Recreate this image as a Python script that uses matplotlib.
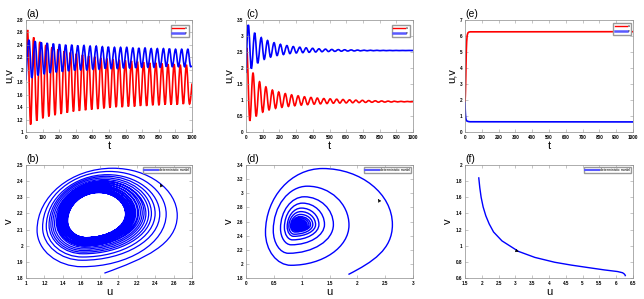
import numpy as np
import matplotlib
matplotlib.use("Agg")
import matplotlib.pyplot as plt
from matplotlib.path import Path
from matplotlib.patches import PathPatch
from matplotlib.lines import Line2D

plt.rcParams['font.family'] = ['Liberation Sans', 'DejaVu Sans']

# ---------------- data: panel (a)/(b) (sustained oscillation) ----------------
a_u0, a_v0, a_uend, a_vend = 1.85, 1.83, 1.78, 2.06
a_t_umax = [9, 46, 83, 119, 156, 193, 230, 267, 303, 340, 377, 414, 451, 487, 524,
            561, 598, 635, 671, 708, 745, 782, 819, 855, 892, 929, 966]
a_t_vmax = [18, 55, 92, 128, 165, 202, 239, 276, 312, 349, 386, 423, 460, 496, 533,
            570, 607, 644, 680, 717, 754, 791, 828, 864, 901, 938, 975]
a_t_umin = [28, 65, 102, 138, 175, 212, 249, 286, 322, 359, 396, 433, 470, 506, 543,
            580, 617, 654, 690, 727, 764, 801, 838, 874, 911, 948, 985]
a_t_vmin = [35, 72, 109, 145, 182, 219, 256, 293, 329, 366, 403, 440, 477, 513, 550,
            587, 624, 661, 697, 734, 771, 808, 845, 881, 918, 955, 992]
a_umax = [2.64, 2.52, 2.45, 2.40, 2.36, 2.33, 2.30, 2.28, 2.26, 2.24, 2.22, 2.21, 2.19, 2.18,
          2.17, 2.16, 2.15, 2.14, 2.13, 2.12, 2.11, 2.11, 2.10, 2.09, 2.09, 2.08, 2.08]
a_umin = [1.12, 1.18, 1.22, 1.25, 1.27, 1.29, 1.31, 1.33, 1.34, 1.35, 1.36, 1.37, 1.38, 1.39,
          1.40, 1.40, 1.41, 1.41, 1.42, 1.42, 1.43, 1.43, 1.44, 1.44, 1.44, 1.45, 1.45]
a_vmax = [2.48, 2.46, 2.44, 2.43, 2.42, 2.41, 2.40, 2.40, 2.39, 2.39, 2.38, 2.38, 2.37, 2.37,
          2.36, 2.36, 2.36, 2.35, 2.35, 2.35, 2.34, 2.34, 2.34, 2.34, 2.33, 2.33, 2.33]
a_vmin = [1.87, 1.91, 1.93, 1.95, 1.96, 1.97, 1.98, 1.99, 2.00, 2.00, 2.01, 2.01, 2.02, 2.02,
          2.02, 2.03, 2.03, 2.03, 2.04, 2.04, 2.04, 2.04, 2.05, 2.05, 2.05, 2.05, 2.05]

# ---------------- data: panel (c)/(d) (damped oscillation) ----------------
c_u0, c_v0, c_uend, c_vend = 1.84, 1.85, 0.95, 2.55
c_t_umax = [4, 42, 81, 119, 158, 196, 235, 273, 312, 350, 389, 427, 466, 504, 543, 581,
            620, 658, 697, 735, 774, 812, 851, 889, 928, 966]
c_t_vmax = [14, 52, 91, 129, 168, 206, 245, 283, 322, 360, 399, 437, 476, 514, 553, 591,
            630, 668, 707, 745, 784, 822, 861, 899, 938, 976]
c_t_umin = [23, 61, 100, 138, 177, 215, 254, 292, 331, 369, 408, 446, 485, 523, 562, 600,
            639, 677, 716, 754, 793, 831, 870, 908, 947, 985]
c_t_vmin = [32, 70, 109, 147, 186, 224, 263, 301, 340, 378, 417, 455, 494, 532, 571, 609,
            648, 686, 725, 763, 802, 840, 879, 917, 956, 994]
c_umax = [2.63, 1.85, 1.57, 1.41, 1.31, 1.25, 1.20, 1.16, 1.13, 1.10, 1.08, 1.06, 1.045,
          1.035, 1.025, 1.015, 1.005, 0.995, 0.99, 0.982, 0.975, 0.97, 0.965, 0.962, 0.958, 0.955]
c_umin = [0.35, 0.49, 0.62, 0.69, 0.74, 0.77, 0.80, 0.82, 0.84, 0.855, 0.87, 0.88, 0.89,
          0.90, 0.905, 0.91, 0.915, 0.92, 0.925, 0.93, 0.932, 0.935, 0.937, 0.94, 0.942, 0.944]
c_vmax = [3.35, 3.10, 2.95, 2.86, 2.79, 2.74, 2.70, 2.67, 2.65, 2.63, 2.615, 2.60, 2.59,
          2.58, 2.575, 2.57, 2.565, 2.56, 2.557, 2.555, 2.553, 2.551, 2.55, 2.549, 2.548, 2.548]
c_vmin = [1.98, 2.15, 2.27, 2.34, 2.39, 2.42, 2.45, 2.47, 2.48, 2.49, 2.50, 2.51, 2.515,
          2.52, 2.525, 2.53, 2.533, 2.536, 2.538, 2.54, 2.541, 2.542, 2.543, 2.544, 2.545, 2.546]

# ---------------- data: panel (e)/(f) (convergence to boundary state) ----------------
e_t = [0, 0.3, 0.6, 1.0, 1.4, 1.8, 2.3, 3.0, 4.0, 5.0, 6.0, 7.0, 8.0, 10, 13, 17, 22, 30, 1000]
e_u = [1.91, 1.94, 1.98, 2.04, 2.12, 2.22, 2.35, 2.60, 3.09, 3.58, 4.17, 4.66, 5.15, 5.65,
       6.04, 6.19, 6.24, 6.26, 6.27]
e_v = [1.84, 1.72, 1.60, 1.48, 1.37, 1.27, 1.17, 1.06, 0.93, 0.855, 0.795, 0.76, 0.73, 0.70,
       0.68, 0.665, 0.65, 0.64, 0.63]

# arrow positions on phase portraits (tail, head)
b_arrow = [(2.475, 2.36), (2.455, 2.385)]
d_arrow = [(2.41, 2.87), (2.37, 2.92)]
f_arrow = [(2.95, 0.95), (3.1, 0.925)]

RED = (1, 0, 0)
BLUE = (0, 0, 1)
LW = 1.2


def ts_path(t0, y0, tmax, ymax, tmin, ymin, tend, yend):
    pts = sorted([(t, y) for t, y in zip(tmax, ymax)] + [(t, y) for t, y in zip(tmin, ymin)])
    verts = [(t0, y0)]
    codes = [Path.MOVETO]
    prev = (t0, y0)
    first = True
    for p in pts + [(tend, yend)]:
        dt = p[0] - prev[0]
        if first:
            c1 = (prev[0] + 0.3 * dt, prev[1] + 0.5 * (p[1] - prev[1]))
        else:
            c1 = (prev[0] + 0.36 * dt, prev[1])
        if p == (tend, yend):
            c2 = (p[0] - 0.3 * dt, p[1] - 0.4 * (p[1] - prev[1]))
        else:
            c2 = (p[0] - 0.36 * dt, p[1])
        verts += [c1, c2, p]
        codes += [Path.CURVE4] * 3
        prev = p
        first = False
    return Path(verts, codes)


def phase_path(u0, v0, umax, umin, vmax, vmin, fr, kap=0.55):
    seq = []
    for k in range(len(umax)):
        du = umax[k] - umin[k]
        dv = vmax[k] - vmin[k]
        seq.append(((umax[k], vmin[k] + fr[0] * dv), 'v'))
        seq.append(((umin[k] + fr[1] * du, vmax[k]), 'h'))
        seq.append(((umin[k], vmin[k] + fr[2] * dv), 'v'))
        seq.append(((umin[k] + fr[3] * du, vmin[k]), 'h'))
    verts = [(u0, v0)]
    codes = [Path.MOVETO]
    R = seq[0][0]
    verts += [(u0 + 0.55 * (R[0] - u0), v0 + 0.25 * (R[1] - v0)),
              (R[0], R[1] - 0.5 * (R[1] - v0)), R]
    codes += [Path.CURVE4] * 3
    for i in range(1, len(seq)):
        P, tp = seq[i - 1]
        Q, tq = seq[i]
        if tp == 'v':
            c1 = (P[0], P[1] + kap * (Q[1] - P[1]))
        else:
            c1 = (P[0] + kap * (Q[0] - P[0]), P[1])
        if tq == 'v':
            c2 = (Q[0], Q[1] - kap * (Q[1] - P[1]))
        else:
            c2 = (Q[0] - kap * (Q[0] - P[0]), Q[1])
        verts += [c1, c2, Q]
        codes += [Path.CURVE4] * 3
    return Path(verts, codes)


fig = plt.figure(figsize=(6.44, 2.99), dpi=100)
W, H = 644.0, 299.0


def make_ax(x0, x1, y0, y1):
    return fig.add_axes([x0 / W, 1 - y1 / H, (x1 - x0) / W, (y1 - y0) / H])


def style(ax, letter, xlabel, ylabel, xlim, ylim, xticks, yticks, xtl, ytl):
    ax.set_xlim(*xlim)
    ax.set_ylim(*ylim)
    ax.set_xticks(xticks)
    ax.set_yticks(yticks)
    ax.set_xticklabels(xtl, fontsize=3.3, fontweight='bold')
    ax.set_yticklabels(ytl, fontsize=3.3, fontweight='bold')
    ax.tick_params(direction='in', length=2, width=0.4, color='0.6', pad=2,
                   top=True, right=True)
    for s in ax.spines.values():
        s.set_color('0.55')
        s.set_linewidth(0.5)
    ax.set_xlabel(xlabel, fontsize=8, labelpad=1)
    ax.set_ylabel(ylabel, fontsize=8, labelpad=2)
    ax.text(0.0, 1.01, letter, transform=ax.transAxes, fontsize=7.5, ha='left', va='bottom')


def fmt(vals):
    out = []
    for v in vals:
        s = ('%.1f' % v)
        if s.endswith('.0'):
            s = s[:-2]
        out.append(s)
    return out


cols = [(26, 192), (246, 413), (465, 633)]
top = (20, 132)
bot = (165, 278)

# ---- (a)
ax = make_ax(cols[0][0], cols[0][1], *top)
ax.add_patch(PathPatch(ts_path(0, a_u0, a_t_umax, a_umax, a_t_umin, a_umin, 1000, a_uend),
                       fill=False, ec=RED, lw=LW))
ax.add_patch(PathPatch(ts_path(0, a_v0, a_t_vmax, a_vmax, a_t_vmin, a_vmin, 1000, a_vend),
                       fill=False, ec=BLUE, lw=LW))
yt = np.arange(1, 2.81, 0.2)
xt = np.arange(0, 1001, 100)
style(ax, '(a)', 't', 'u,v', (0, 1000), (1, 2.8), xt, yt, [str(int(x)) for x in xt], fmt(yt))

# ---- (c)
ax = make_ax(cols[1][0], cols[1][1], *top)
ax.add_patch(PathPatch(ts_path(0, c_u0, c_t_umax, c_umax, c_t_umin, c_umin, 1000, c_uend),
                       fill=False, ec=RED, lw=LW))
ax.add_patch(PathPatch(ts_path(0, c_v0, c_t_vmax, c_vmax, c_t_vmin, c_vmin, 1000, c_vend),
                       fill=False, ec=BLUE, lw=LW))
yt = np.arange(0, 3.51, 0.5)
style(ax, '(c)', 't', 'u,v', (0, 1000), (0, 3.5), xt, yt, [str(int(x)) for x in xt], fmt(yt))

# ---- (e)
ax = make_ax(cols[2][0], cols[2][1], *top)
ax.plot(e_t, e_u, color=RED, lw=LW)
ax.plot(e_t, e_v, color=BLUE, lw=LW)
yt = np.arange(0, 7.1, 1)
style(ax, '(e)', 't', 'u,v', (0, 1000), (0, 7), xt, yt, [str(int(x)) for x in xt], fmt(yt))

# legends top row
handles = [Line2D([], [], color=RED, lw=1.0), Line2D([], [], color=(0.35, 0.35, 1), lw=1.8)]
for i, ax in enumerate(fig.axes):
    ax.legend(handles, ['u', 'v'], loc='upper right', fontsize=2.5, handlelength=3.5,
              borderpad=0.4, labelspacing=0.25, handletextpad=0.3, frameon=True,
              fancybox=False, edgecolor='0.6', framealpha=1,
              bbox_to_anchor=(0.99, 0.97) if i < 2 else (1.0, 0.99))

# ---- (b)
ax = make_ax(cols[0][0], cols[0][1], *bot)
ax.add_patch(PathPatch(phase_path(a_u0, a_v0, a_umax, a_umin, a_vmax, a_vmin,
                                  (0.52, 0.54, 0.37, 0.32)),
                       fill=False, ec=BLUE, lw=0.9))
ax.annotate('', xy=b_arrow[1], xytext=b_arrow[0],
            arrowprops=dict(arrowstyle='-|>', color='k', lw=0.3, mutation_scale=5))
xt = np.arange(1, 2.81, 0.2)
yt = np.arange(1.8, 2.51, 0.1)
style(ax, '(b)', 'u', 'v', (1, 2.8), (1.8, 2.5), xt, yt, fmt(xt), fmt(yt))

# ---- (d)
ax = make_ax(cols[1][0], cols[1][1], *bot)
ax.add_patch(PathPatch(phase_path(c_u0, c_v0, c_umax, c_umin, c_vmax, c_vmin,
                                  (0.42, 0.45, 0.34, 0.20)),
                       fill=False, ec=BLUE, lw=1.0))
ax.annotate('', xy=d_arrow[1], xytext=d_arrow[0],
            arrowprops=dict(arrowstyle='-|>', color='k', lw=0.3, mutation_scale=5))
xt = np.arange(0, 3.01, 0.5)
yt = np.arange(1.8, 3.41, 0.2)
style(ax, '(d)', 'u', 'v', (0, 3), (1.8, 3.4), xt, yt, fmt(xt), fmt(yt))

# ---- (f)
ax = make_ax(cols[2][0], cols[2][1], *bot)
ax.plot(e_u, e_v, color=BLUE, lw=1.0, solid_joinstyle='round')
ax.annotate('', xy=f_arrow[1], xytext=f_arrow[0],
            arrowprops=dict(arrowstyle='-|>', color='k', lw=0.3, mutation_scale=5))
xt = np.arange(1.5, 6.51, 0.5)
yt = np.arange(0.6, 2.01, 0.2)
style(ax, '(f)', 'u', 'v', (1.5, 6.5), (0.6, 2.0), xt, yt, fmt(xt), fmt(yt))

for ax in fig.axes[3:]:
    ax.legend([Line2D([], [], color=(0.35, 0.35, 1), lw=1.5)], ['deterministic model'],
              loc='upper right', fontsize=2.5, handlelength=4, borderpad=0.3,
              handletextpad=0.4, frameon=True, fancybox=False, edgecolor='0.6',
              framealpha=1, bbox_to_anchor=(1.0, 1.0))

fig.savefig('out.png', dpi=100)
